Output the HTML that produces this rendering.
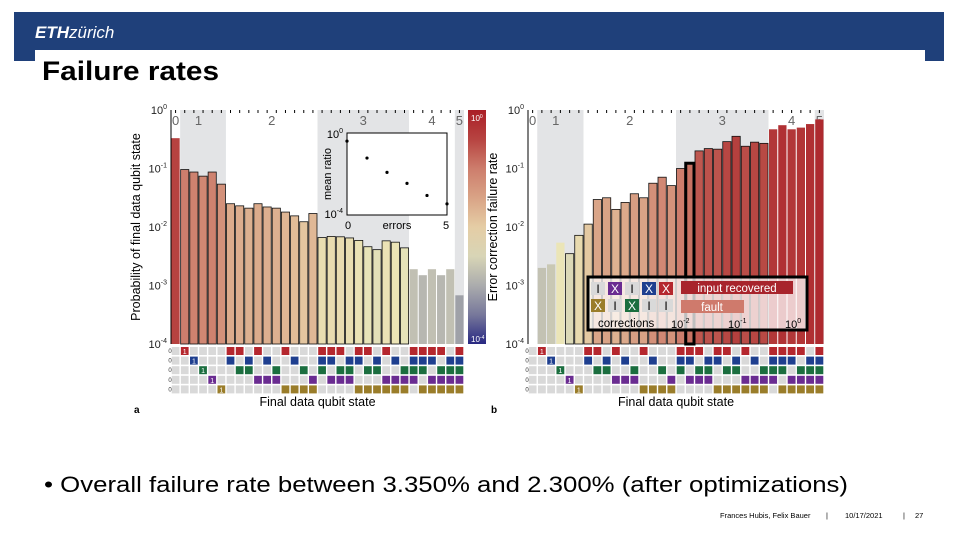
<!DOCTYPE html>
<html><head><meta charset="utf-8">
<style>
body{margin:0;width:960px;height:540px;overflow:hidden;background:#fff;font-family:"Liberation Sans",sans-serif}
svg{position:absolute;left:0;top:0}
</style></head>
<body>
<svg id="s" width="960" height="540" xmlns="http://www.w3.org/2000/svg" font-family="Liberation Sans, sans-serif">
<g>
<rect x="14" y="12" width="930" height="38" fill="#1f407a"/>
<rect x="14" y="50" width="21" height="11" fill="#1f407a"/>
<rect x="925" y="50" width="19" height="11" fill="#1f407a"/>
<text x="35" y="38" fill="#fff" font-size="17" font-weight="bold" font-style="italic">ETH<tspan font-weight="normal">zürich</tspan></text>
</g>
<text x="42" y="80" font-size="27" font-weight="bold" textLength="177" lengthAdjust="spacingAndGlyphs">Failure rates</text>
<g id="chartA"></g>
<g id="chartB"></g>
<text x="44" y="492" font-size="22" textLength="804" lengthAdjust="spacingAndGlyphs">• Overall failure rate between 3.350% and 2.300% (after optimizations)</text>
<g font-size="7.5" fill="#000">
<text x="720" y="518">Frances Hubis, Felix Bauer</text>
<text x="826" y="518">|</text>
<text x="845" y="518">10/17/2021</text>
<text x="903" y="518">|</text>
<text x="915" y="518">27</text>
</g>
</svg>
<script>
const stateMasks=[0,1,2,4,8,16,3,5,6,9,10,12,17,18,20,24,7,11,13,14,19,21,22,25,26,28,15,23,27,29,30,31];
const probA=[0.33,0.096,0.087,0.074,0.087,0.054,0.025,0.023,0.021,0.025,0.022,0.021,0.018,0.0155,0.0123,0.017,0.0066,0.0069,0.0068,0.0065,0.0059,0.0046,0.0041,0.0058,0.0055,0.0044,0.0019,0.0015,0.0019,0.0015,0.0019,0.00068];
const rateB=[null,0.002,0.0023,0.0054,0.0035,0.0072,0.0112,0.0295,0.0316,0.02,0.0263,0.037,0.0316,0.056,0.071,0.051,0.1,0.123,0.2,0.219,0.214,0.288,0.355,0.24,0.282,0.269,0.468,0.55,0.468,0.5,0.575,0.69];
const meanRatio=[0.4,0.06,0.012,0.0035,0.0009,0.00035];
const yTicks=["0","-1","-2","-3","-4"];
const NS="http://www.w3.org/2000/svg";
const rowCols=["#b5272e","#1f3f8f","#1b6e3f","#6a2c91","#9a7d2a"];
function mk(p,t,a){const e=document.createElementNS(NS,t);for(const k in a)e.setAttribute(k,a[k]);p.appendChild(e);return e;}
const stops=[[0,[170,30,38]],[-0.6,[185,75,70]],[-1,[205,125,108]],[-1.7,[222,178,145]],[-2.3,[236,232,185]],[-2.8,[185,185,178]],[-3.3,[150,152,165]],[-4,[40,40,130]]];
function cmap(l){l=Math.max(-4,Math.min(0,l));for(let i=0;i<stops.length-1;i++){const[a,ca]=stops[i],[b,cb]=stops[i+1];if(l<=a&&l>=b){const t=(a-l)/(a-b);return"rgb("+ca.map((c,j)=>Math.round(c+(cb[j]-c)*t)).join(",")+")";}}return"#888";}
function chart(g,x0,x1,vals,outlineFrom,ylabel,letter){
 const yT=110,yB=344,bw=(x1-x0)/32;
 const ys=v=>yT+(-Math.log10(v))*(yB-yT)/4;
 const xs=i=>x0+i*bw;
 [[1,5],[16,25],[31,31]].forEach(r=>{const e=mk(g,"rect",{x:xs(r[0]),y:yT,width:(r[1]-r[0]+1)*bw,height:yB-yT,fill:"#e3e4e6"});});
 [["0",0.5],["1",3],["2",11],["3",21],["4",28.5],["5",31.5]].forEach(l=>{const t=mk(g,"text",{x:xs(l[1]),y:yT+15,"font-size":13,fill:"#666","text-anchor":"middle"});t.textContent=l[0];});
 for(let i=0;i<32;i++){mk(g,"line",{x1:xs(i+0.5),x2:xs(i+0.5),y1:yT,y2:yT+3,stroke:"#000","stroke-width":1});}
 vals.forEach((v,i)=>{if(v==null)return;const l=Math.log10(v);const r=mk(g,"rect",{x:xs(i)+0.5,y:ys(v),width:bw-1,height:yB-ys(v),fill:cmap(l),stroke:(i>=outlineFrom&&i<=25)?"#111":"none","stroke-width":0.8});});
 mk(g,"line",{x1:x0,x2:x0,y1:yT,y2:yB,stroke:"#000"});
 yTicks.forEach((t,k)=>{const y=yT+k*(yB-yT)/4;const tx=mk(g,"text",{x:x0-4,y:y+4,"font-size":11,"text-anchor":"end",fill:"#222"});tx.innerHTML="10<tspan dy='-5' font-size='7'>"+t+"</tspan>";});
 stateMasks.forEach((m,i)=>{for(let b=0;b<5;b++){const on=(m>>b)&1;const y=347+b*9.6;mk(g,"rect",{x:xs(i)+0.7,y:y,width:bw-1.4,height:8,fill:on?rowCols[b]:"#d9d9d9"});if(on&&[1,2,4,8,16].includes(m)){const t=mk(g,"text",{x:xs(i)+bw/2,y:y+7,"font-size":7,fill:"#fff","text-anchor":"middle"});t.textContent="1";}}});
 for(let b=0;b<5;b++){const t=mk(g,"text",{x:x0-1,y:353+b*9.6,"font-size":6,"text-anchor":"middle",fill:"#333"});t.textContent="0";}
 const xl=mk(g,"text",{x:(x0+x1)/2,y:406,"font-size":12.5,"text-anchor":"middle"});xl.textContent="Final data qubit state";
 const yl=mk(g,"text",{transform:"translate("+(x0-31)+",227) rotate(-90)","font-size":12.5,"text-anchor":"middle"});yl.textContent=ylabel;
 const lt=mk(g,"text",{x:x0-37,y:413,"font-size":10,"font-weight":"bold"});lt.textContent=letter;
 return {xs,ys,bw};
}
const A=document.getElementById("chartA"),B=document.getElementById("chartB");
chart(A,171,464,probA,1,"Probability of final data qubit state","a");
const cb=chart(B,528,824,rateB,4,"Error correction failure rate","b");
const defs=mk(A,"defs",{});const lg=mk(defs,"linearGradient",{id:"cg",x1:0,y1:0,x2:0,y2:1});
for(let k=0;k<=8;k++){mk(lg,"stop",{offset:k/8,"stop-color":cmap(-k/2)});}
const cbr=mk(A,"rect",{x:468,y:110,width:18,height:234,fill:"url(#cg)"});
let t=mk(A,"text",{x:471,y:121,"font-size":8,fill:"#fff"});t.innerHTML="10<tspan dy='-3' font-size='5'>0</tspan>";
t=mk(A,"text",{x:471,y:342,"font-size":8,fill:"#fff"});t.innerHTML="10<tspan dy='-3' font-size='5'>-4</tspan>";
const ins=mk(A,"g",{});
mk(ins,"rect",{x:347,y:133,width:100,height:82,fill:"#fff",stroke:"#000"});
const ix=e=>347+e*100/5, iy=v=>133+(-Math.log10(v))*82/4;
meanRatio.forEach((v,e)=>{const c=mk(ins,"circle",{cx:ix(e),cy:iy(v),r:1.6,fill:"#000"});});
t=mk(ins,"text",{x:343,y:138,"font-size":11,"text-anchor":"end"});t.innerHTML="10<tspan dy='-5' font-size='7'>0</tspan>";
t=mk(ins,"text",{x:343,y:218,"font-size":11,"text-anchor":"end"});t.innerHTML="10<tspan dy='-5' font-size='7'>-4</tspan>";
t=mk(ins,"text",{x:348,y:229,"font-size":11,"text-anchor":"middle"});t.textContent="0";
t=mk(ins,"text",{x:446,y:229,"font-size":11,"text-anchor":"middle"});t.textContent="5";
t=mk(ins,"text",{x:397,y:229,"font-size":11,"text-anchor":"middle"});t.textContent="errors";
t=mk(ins,"text",{transform:"translate(331,174) rotate(-90)","font-size":11,"text-anchor":"middle"});t.textContent="mean ratio";
const hb=17;
const hr=mk(B,"rect",{x:cb.xs(hb)+0.5,y:cb.ys(rateB[hb]),width:cb.bw-1,height:344-cb.ys(rateB[hb]),fill:"none",stroke:"#000","stroke-width":3});
const L=mk(B,"g",{});
mk(L,"rect",{x:588,y:277,width:219,height:53,fill:"rgba(255,255,255,0.75)",stroke:"#000","stroke-width":3});
const r1=[["I","#d9d9d9","#000"],["X","#6a2c91","#fff"],["I","#d9d9d9","#000"],["X","#1f3f8f","#fff"],["X","#b5272e","#fff"]];
const r2=[["X","#9a7d2a","#fff"],["I","#d9d9d9","#000"],["X","#1b6e3f","#fff"],["I","#d9d9d9","#000"],["I","#d9d9d9","#000"]];
[r1,r2].forEach((r,ri)=>r.forEach((c,k)=>{const x=591+k*17,y=282+ri*17;mk(L,"rect",{x:x,y:y,width:14,height:13,fill:c[1]});const tt=mk(L,"text",{x:x+7,y:y+11,"font-size":12,fill:c[2],"text-anchor":"middle"});tt.textContent=c[0];}));
mk(L,"rect",{x:681,y:281,width:112,height:13,fill:"#a8242c"});
t=mk(L,"text",{x:737,y:292,"font-size":11.5,fill:"#fff","text-anchor":"middle"});t.textContent="input recovered";
mk(L,"rect",{x:681,y:300,width:63,height:13,fill:"#cf7a6c"});
t=mk(L,"text",{x:712,y:311,"font-size":11.5,fill:"#fff","text-anchor":"middle"});t.textContent="fault";
t=mk(L,"text",{x:598,y:327,"font-size":11.5});t.textContent="corrections";
[["-2",671],["-1",728],["0",785]].forEach(a=>{const tt=mk(L,"text",{x:a[1],y:328,"font-size":11});tt.innerHTML="10<tspan dy='-5' font-size='7'>"+a[0]+"</tspan>";});
</script>
</body></html>
